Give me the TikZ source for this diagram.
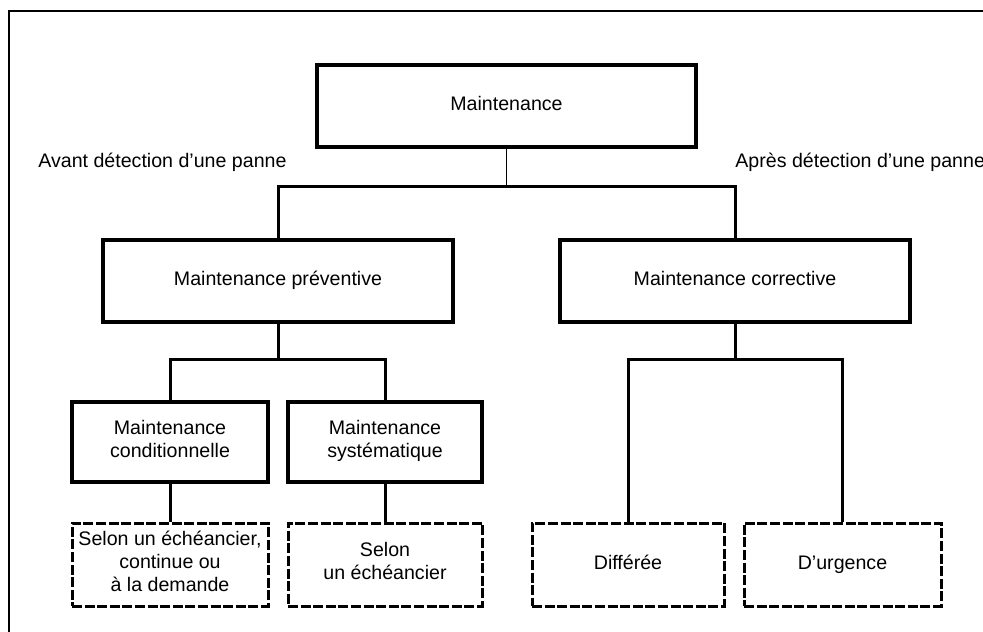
\documentclass[tikz,border=0pt]{standalone}
\usepackage{fontspec}
\setmainfont{Liberation Sans}

\begin{document}
\begin{tikzpicture}[x=0.5pt, y=-0.5pt,
    font=\fontsize{9.8}{11.5}\selectfont,
    boite/.style={draw, line width=1.6pt, align=center, inner sep=0pt,
      minimum width=#1, minimum height=40pt,
      execute at begin node=\strut, execute at end node=\strut},
    boitetir/.style={draw, line width=1.5pt, dash pattern=on 5pt off 1.3pt,
      align=center, inner sep=0pt, minimum width=#1, minimum height=41.5pt,
      execute at begin node=\strut, execute at end node=\strut},
    lien/.style={line width=1.5pt}]

      % Cadre et zone visible
      \useasboundingbox (0,0) rectangle (983,631);
      \draw[line width=0.8pt] (9,660) -- (9,11) -- (1010,11);

      % Niveau 1
      \node[boite=189.5pt, minimum height=41pt, line width=2pt] (maint) at (506.5,106) {Maintenance};

      % Textes de part et d'autre
      \node[anchor=west, inner sep=0pt] (avant) at (38,162) {Avant détection d'une panne};
      \node[anchor=west, inner sep=0pt] (apres) at (735,162) {Après détection d'une panne};

      % Niveau 2
      \node[boite=175pt, minimum height=41pt] (prev) at (278,281) {Maintenance préventive};
      \node[boite=175pt, minimum height=41pt] (corr) at (735,281) {Maintenance corrective};

      % Niveau 3
      \node[boite=98pt] (cond) at (170,442) {Maintenance\\conditionnelle};
      \node[boite=97pt] (syst) at (385,442) {Maintenance\\systématique};

      % Niveau 4 (cadres en tirets)
      \node[boitetir=98pt] (selonA) at (170,564.5) {Selon un échéancier,\\continue ou\\à la demande};
      \node[boitetir=97pt] (selonB) at (385,564.5) {Selon\\un échéancier};
      \node[boitetir=96pt] (diff) at (628,564.5) {Différée};
      \node[boitetir=98.5pt] (urg) at (842.5,564.5) {D'urgence};

      % Points de jonction
      \coordinate (jmaint) at (506.5,186);
      \coordinate (jprev) at (278,359);
      \coordinate (jcorr) at (735,359);

      % Liaisons
      \draw[line width=0.6pt] (maint) -- (jmaint);
      \draw[lien] (prev.north) |- (jmaint) -| (corr.north);

      \draw[lien] (prev) -- (jprev);
      \draw[lien] (cond.north) |- (jprev) -| (syst.north);
      \draw[lien] (cond) -- (selonA);
      \draw[lien] (syst) -- (selonB);

      \draw[lien] (corr) -- (jcorr);
      \draw[lien] (diff.north) |- (jcorr) -| (urg.north);

\end{tikzpicture}
\end{document}
